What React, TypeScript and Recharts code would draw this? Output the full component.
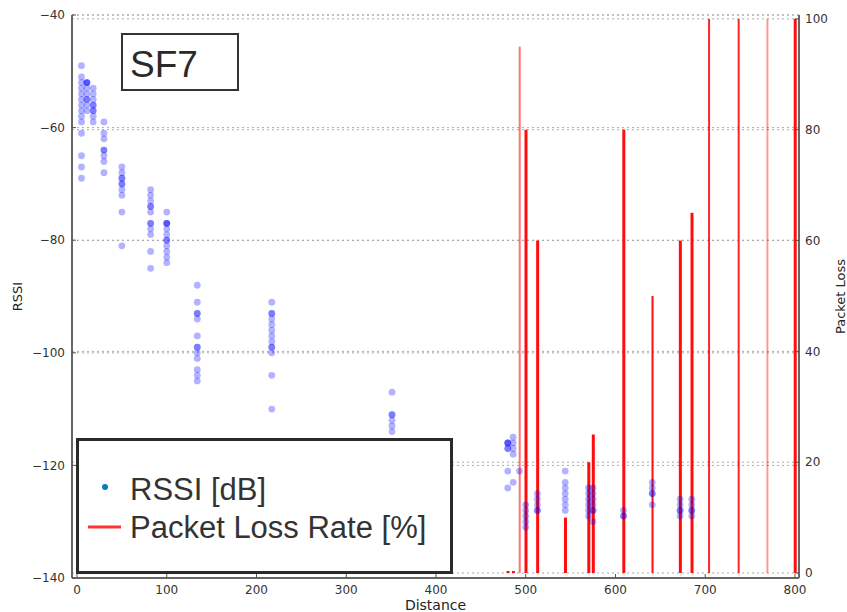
import {
  Bar,
  CartesianGrid,
  ComposedChart,
  Legend,
  Scatter,
  XAxis,
  YAxis,
} from "recharts";

// RSSI readings, one column of samples per measured distance
const rssiDistances = [5, 11, 18, 30, 50, 82, 100, 134, 217, 351, 480, 486, 493, 500, 513, 544, 570, 575, 609, 641, 672, 685];
const rssiReadings = [
  [-49, -51, -52, -53, -54, -55, -56, -57, -58, -59, -61, -65, -67, -69],
  [-52, -52, -52, -53, -54, -55, -55, -56, -57],
  [-53, -54, -55, -56, -56, -57, -57, -58, -59],
  [-59, -61, -62, -64, -64, -65, -66, -68],
  [-67, -68, -69, -69, -70, -70, -71, -72, -75, -81],
  [-71, -72, -73, -74, -74, -75, -77, -77, -78, -79, -82, -85],
  [-75, -77, -77, -77, -78, -79, -80, -80, -81, -82, -83, -84],
  [-88, -91, -93, -93, -94, -97, -99, -99, -100, -101, -103, -104, -105],
  [-91, -93, -93, -94, -95, -96, -97, -98, -99, -99, -100, -104, -110],
  [-107, -111, -111, -112, -113, -114, -116, -122],
  [-116, -116, -116, -117, -117, -121, -124],
  [-115, -116, -117, -118, -123],
  [-121],
  [-127, -128, -129, -130, -131],
  [-125, -126, -127, -128, -128],
  [-121, -123, -124, -125, -126, -127, -128],
  [-124, -125, -126, -127, -128, -129],
  [-124, -125, -126, -127, -128, -128, -130],
  [-128, -129, -129],
  [-123, -124, -125, -125, -127],
  [-126, -127, -128, -128, -129],
  [-126, -127, -128, -128, -129],
];

// packet loss rate [%] per distance
const lossDistances = [5, 11, 18, 30, 82, 100, 134, 351, 480, 486, 493, 500, 513, 544, 570, 575, 609, 641, 672, 685, 704, 737, 769, 800];
const lossRates = [0, 0, 0, 0, 0, 0, 0, 0, 0, 0, 95, 80, 60, 10, 20, 25, 80, 50, 60, 65, 100, 100, 100, 100];

const distanceTicks = [0, 100, 200, 300, 400, 500, 600, 700, 800];
const rssiTicks = [-140, -120, -100, -80, -60, -40];
const lossTicks = [0, 20, 40, 60, 80, 100];

// some of the loss lines are drawn thinner / lighter
const thinLoss = [493, 641, 704, 737, 769];
const lossOpacity: Record<number, number> = { 493: 0.55, 704: 0.85, 737: 0.85, 769: 0.4 };

const rssiPoints = rssiDistances.flatMap((d, i) => rssiReadings[i].map((rssi) => ({ d, rssi })));
const lossData = lossDistances.map((d, i) => ({ d, loss: lossRates[i] }));

const tickFont = { fontFamily: "'DejaVu Sans', sans-serif", fontSize: 12, fill: "#333" };
const labelFont = { fontFamily: "'DejaVu Sans', sans-serif", fontSize: 13, fill: "#222" };
const minus = (v: number) => String(v).replace("-", "\u2212");

const LeftTick = ({ x, y, payload }: any) => (
  <g>
    <line x1={x + 7} x2={x + 11} y1={y} y2={y} stroke="#555" />
    <text x={x} y={y} dy="0.35em" textAnchor="end" {...tickFont}>
      {minus(payload.value)}
    </text>
  </g>
);

const RightTick = ({ x, y, payload }: any) => (
  <g>
    <line x1={x - 6} x2={x - 10} y1={y} y2={y} stroke="#555" />
    <text x={x} y={y} dy="0.35em" textAnchor="start" {...tickFont}>
      {payload.value}
    </text>
  </g>
);

const BottomTick = ({ x, y, payload }: any) => (
  <g>
    <line x1={x} x2={x} y1={y - 6} y2={y - 10} stroke="#555" />
    <text x={x} y={y} dy="0.8em" textAnchor="middle" {...tickFont}>
      {payload.value}
    </text>
  </g>
);

const TopTick = ({ x, y }: any) => <line x1={x} x2={x} y1={y} y2={y + 4} stroke="#555" />;

const RssiLabel = ({ viewBox }: any) => {
  const cx = viewBox.x + 17;
  const cy = viewBox.y + viewBox.height / 2;
  return (
    <text x={cx} y={cy} transform={`rotate(-90 ${cx} ${cy})`} textAnchor="middle" dominantBaseline="central" {...labelFont}>
      RSSI
    </text>
  );
};

const LossLabel = ({ viewBox }: any) => {
  const cx = viewBox.x + 41;
  const cy = viewBox.y + viewBox.height / 2;
  return (
    <text x={cx} y={cy} transform={`rotate(-90 ${cx} ${cy})`} textAnchor="middle" dominantBaseline="central" {...labelFont}>
      Packet Loss
    </text>
  );
};

const DistanceLabel = ({ viewBox }: any) => (
  <text x={viewBox.x + viewBox.width / 2} y={viewBox.y + 32} textAnchor="middle" {...labelFont} fontSize={14}>
    Distance
  </text>
);

const LossShape = (props: any) => {
  const { x, y, width, height, payload } = props;
  const w = thinLoss.includes(payload.d) ? 2 : 3;
  const cx = x + width / 2;
  const top = height < 0 ? y + height : y;
  return (
    <rect x={cx - w / 2} y={top} width={w} height={Math.abs(height)} fill="#ff0000" fillOpacity={lossOpacity[payload.d] ?? 0.95} />
  );
};

const RssiDot = ({ cx, cy }: any) => <circle cx={cx} cy={cy} r={3.4} fill="#0000ff" fillOpacity={0.3} />;

const legendFont = { fontFamily: "'Liberation Sans', Arial, sans-serif", fontSize: 31, fill: "#333" };

const LegendBox = () => (
  <svg width={377} height={136} style={{ display: "block" }}>
    <rect x={1.5} y={1.5} width={374} height={133} fill="#fff" stroke="#2a2a2a" strokeWidth={3} />
    <circle cx={29} cy={49} r={3} fill="#0b7bc1" />
    <text x={54} y={62} {...legendFont}>
      RSSI [dB]
    </text>
    <line x1={12} x2={45} y1={89} y2={89} stroke="#ff3333" strokeWidth={3} />
    <text x={54} y={100} {...legendFont}>
      Packet Loss Rate [%]
    </text>
  </svg>
);

const App = () => {
  return (
    <div style={{ position: "absolute", left: 0, top: 0, width: 847, height: 612, background: "#fff" }}>
      <ComposedChart width={847} height={612} data={lossData} margin={{ top: 15, right: 0, bottom: 0, left: 0 }}>
        <CartesianGrid yAxisId="left" vertical={false} stroke="#aaa" strokeDasharray="2 3" />
        <CartesianGrid yAxisId="right" vertical={false} stroke="#aaa" strokeDasharray="2 3" />
        <XAxis
          dataKey="d"
          type="number"
          domain={[-5.6, 804.5]}
          allowDataOverflow
          ticks={distanceTicks}
          height={34}
          tickSize={0}
          tickMargin={6}
          tick={<BottomTick />}
          axisLine={{ stroke: "#666", strokeWidth: 2 }}
          label={<DistanceLabel />}
        />
        <XAxis
          xAxisId="top"
          orientation="top"
          dataKey="d"
          type="number"
          domain={[-5.6, 804.5]}
          allowDataOverflow
          ticks={distanceTicks}
          height={0}
          tickSize={0}
          tickMargin={0}
          tick={<TopTick />}
          axisLine={{ stroke: "#666", strokeWidth: 2 }}
        />
        <YAxis
          yAxisId="left"
          dataKey="rssi"
          type="number"
          domain={[-140, -40]}
          allowDataOverflow
          ticks={rssiTicks}
          width={72}
          tickSize={0}
          tickMargin={7}
          tick={<LeftTick />}
          axisLine={{ stroke: "#666", strokeWidth: 2 }}
          label={<RssiLabel />}
        />
        <YAxis
          yAxisId="right"
          orientation="right"
          type="number"
          domain={[-0.9, 100.7]}
          allowDataOverflow
          ticks={lossTicks}
          width={48}
          tickSize={0}
          tickMargin={6}
          tick={<RightTick />}
          axisLine={{ stroke: "#666", strokeWidth: 2 }}
          label={<LossLabel />}
        />
        <Bar
          yAxisId="right"
          dataKey="loss"
          barSize={3}
          minPointSize={2}
          shape={<LossShape />}
          isAnimationActive={false}
        />
        <Scatter
          yAxisId="left"
          data={rssiPoints}
          shape={<RssiDot />}
          isAnimationActive={false}
        />
        <Legend
          layout="vertical"
          align="center"
          verticalAlign="middle"
          width={377}
          height={136}
          wrapperStyle={{ left: 76, top: 438, width: 377, height: 136 }}
          content={<LegendBox />}
        />
      </ComposedChart>
      <div
        style={{
          position: "absolute",
          left: 121,
          top: 33,
          width: 118,
          height: 58,
          boxSizing: "border-box",
          border: "2px solid #333",
          background: "#fff",
        }}
      >
        <svg width={114} height={54} style={{ display: "block" }}>
          <text x={7} y={42} fontFamily="'Liberation Sans', Arial, sans-serif" fontSize={37} fill="#2a2a2a">
            SF7
          </text>
        </svg>
      </div>
    </div>
  );
};

export default App;
